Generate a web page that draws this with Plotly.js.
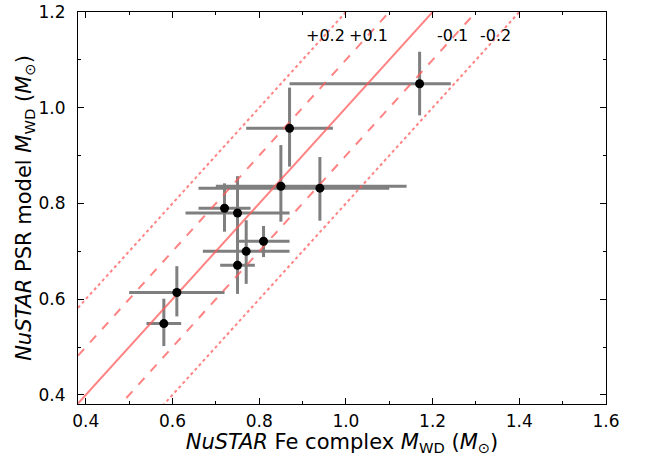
<!DOCTYPE html>
<html>
<head>
<meta charset="utf-8">
<script src="https://cdn.plot.ly/plotly-3.0.1.min.js"></script>
<style>html,body{margin:0;padding:0;background:#fff;}#chart{width:648px;height:456px;}</style>
</head>
<body>
<div id="chart"></div>
<script>
// Data
const feMass   = [1.17, 0.87, 0.85, 0.94, 0.72, 0.75, 0.77, 0.81, 0.75, 0.61, 0.58];
const feErrHi  = [0.072, 0.10, 0.29, 0.16, 0.06, 0.12, 0.10, 0.06, 0.04, 0.11, 0.04];
const feErrLo  = [0.30, 0.10, 0.15, 0.28, 0.06, 0.12, 0.10, 0.06, 0.04, 0.11, 0.04];
const psrMass  = [1.05, 0.957, 0.836, 0.832, 0.79, 0.78, 0.70, 0.721, 0.671, 0.614, 0.549];
const psrErrHi = [0.067, 0.085, 0.086, 0.065, 0.052, 0.077, 0.065, 0.032, 0.06, 0.055, 0.052];
const psrErrLo = [0.066, 0.08, 0.074, 0.068, 0.049, 0.077, 0.068, 0.033, 0.06, 0.05, 0.047];
const offsets      = [0, 0.1, -0.1, 0.2, -0.2];
const offsetDashes = ['solid', 'dash', 'dash', 'dot', 'dot'];
const labelTexts   = ['+0.2', '+0.1', '-0.1', '-0.2'];
const labelX       = [0.952, 1.052, 1.246, 1.346];
const labelY       = 1.15;
const xRange = [0.382, 1.6];
const yRange = [0.381, 1.2];

const lineColor = 'rgba(255,90,90,0.75)';
const traces = [];
// error bars (under the lines)
traces.push({
  x: feMass, y: psrMass, type: 'scatter', mode: 'markers',
  marker: {size: 1, color: 'rgba(0,0,0,0)'},
  error_x: {type: 'data', symmetric: false, array: feErrHi, arrayminus: feErrLo, color: '#7f7f7f', thickness: 3, width: 0},
  error_y: {type: 'data', symmetric: false, array: psrErrHi, arrayminus: psrErrLo, color: '#7f7f7f', thickness: 3, width: 0},
  hoverinfo: 'skip', showlegend: false
});
// one-to-one and offset lines
offsets.forEach((o, i) => {
  traces.push({
    x: [xRange[0], xRange[1]], y: [xRange[0] + o, xRange[1] + o],
    type: 'scatter', mode: 'lines',
    line: {color: lineColor, width: 2, dash: offsetDashes[i]},
    showlegend: false, hoverinfo: 'skip'
  });
});
// markers on top
traces.push({
  x: feMass, y: psrMass, type: 'scatter', mode: 'markers',
  marker: {size: 9, color: '#000'}, showlegend: false
});

function axisCommon(standoff) {
  return {
    showgrid: false, zeroline: false, showline: true, linecolor: '#000', linewidth: 1,
    mirror: 'allticks', ticks: 'inside', ticklen: 6, tickwidth: 1, tickcolor: '#000',
    tickfont: {family: 'DejaVu Sans', size: 17, color: '#000'},
    ticklabelstandoff: standoff,
    minor: {ticks: 'inside', ticklen: 3, tickwidth: 1, tickcolor: '#000', dtick: 0.1}
  };
}

const layout = {
  width: 648, height: 456,
  margin: {l: 78, r: 42, t: 12, b: 52},
  paper_bgcolor: '#fff', plot_bgcolor: '#fff',
  font: {family: 'DejaVu Sans', size: 16, color: '#000'},
  xaxis: Object.assign(axisCommon(2), {
    range: xRange, dtick: 0.2, tick0: 0, tickformat: '.1f',
    title: {text: '<i>NuSTAR</i> Fe complex <i>M</i><sub>WD</sub> (<i>M</i><sub>\u2299</sub>)', font: {family: 'DejaVu Sans', size: 21, color: '#000'}, standoff: 6}
  }),
  yaxis: Object.assign(axisCommon(8), {
    range: yRange, dtick: 0.2, tick0: 0, tickformat: '.1f',
    title: {text: '<i>NuSTAR</i> PSR model <i>M</i><sub>WD</sub> (<i>M</i><sub>\u2299</sub>)', font: {family: 'DejaVu Sans', size: 21, color: '#000'}, standoff: 1}
  }),
  annotations: labelTexts.map((t, i) => ({
    x: labelX[i], y: labelY, xref: 'x', yref: 'y', text: t, showarrow: false,
    font: {family: 'DejaVu Sans', size: 16, color: '#000'}, xanchor: 'center', yanchor: 'middle'
  }))
};

Plotly.newPlot('chart', traces, layout, {displayModeBar: false, staticPlot: true});
</script>
</body>
</html>
